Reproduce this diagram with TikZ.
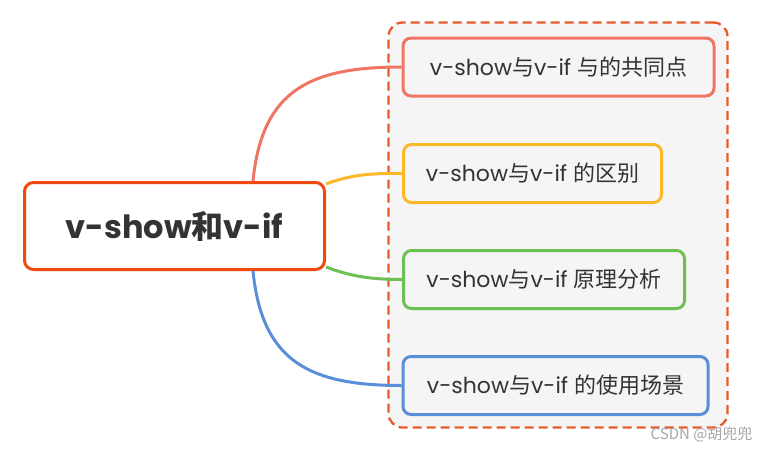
\documentclass[tikz,border=0pt]{standalone}
\usepackage{fontspec}
\setmainfont{Poppins}
\newfontfamily\cjk{Noto Sans CJK SC}
\definecolor{txt}{HTML}{333333}
\definecolor{mainc}{HTML}{EE4A12}
\definecolor{dashc}{HTML}{E85A2A}
\definecolor{cred}{HTML}{F07565}
\definecolor{cyel}{HTML}{FBB829}
\definecolor{cgrn}{HTML}{6CC054}
\definecolor{cblu}{HTML}{5B8ED8}
\definecolor{boxfill}{HTML}{F5F5F5}
\newcommand{\zh}[1]{{\cjk #1}}
\begin{document}
\begin{tikzpicture}[x=1pt,y=-1pt,
  mainbox/.style={draw=mainc,line width=3pt,rounded corners=9pt,fill=white,
    minimum width=300pt,minimum height=87pt,text=txt,inner sep=0pt,
    font=\fontsize{32}{38}\selectfont\bfseries},
  leaf/.style={line width=3pt,rounded corners=8pt,fill=boxfill,
    minimum height=58pt,text=txt,inner sep=0pt,
    font=\fontsize{22}{26}\selectfont},
  conn/.style={line width=3pt}]
\useasboundingbox (0,0) rectangle (770,450);
\node[draw=dashc,dashed,dash pattern=on 9pt off 5pt,line width=2.3pt,fill=boxfill,
  rounded corners=14pt,minimum width=339pt,minimum height=405pt] (frame) at (558,225) {};
\node[mainbox] (m) at (174.5,226) {v-show\zh{\bfseries 和}v-if};
\node[leaf,draw=cred,minimum width=311pt] (b1) at (558.5,67) {v-show\zh{与}v-if \zh{与的共同点}};
\node[leaf,draw=cyel,minimum width=258pt] (b2) at (532.5,173.5) {v-show\zh{与}v-if \zh{的区别}};
\node[leaf,draw=cgrn,minimum width=281pt] (b3) at (544,279.5) {v-show\zh{与}v-if \zh{原理分析}};
\node[leaf,draw=cblu,minimum width=305pt] (b4) at (555.5,385.5) {v-show\zh{与}v-if \zh{的使用场景}};
\draw[conn,cred] ([xshift=230pt]m.north west) .. controls (262,90) and (310,67) .. (b1.west);
\draw[conn,cyel] ([yshift=-3pt]m.north east) .. controls (350,175) and (370,173) .. (b2.west);
\draw[conn,cgrn] ([yshift=4pt]m.south east) .. controls (350,276) and (370,279.5) .. (b3.west);
\draw[conn,cblu] ([xshift=230pt]m.south west) .. controls (262,362) and (310,385.5) .. (b4.west);
\node[anchor=east,text=black!35,font=\fontsize{15}{17}\selectfont\cjk] (wm) at (756,434) {CSDN @胡兜兜};
\end{tikzpicture}
\end{document}
